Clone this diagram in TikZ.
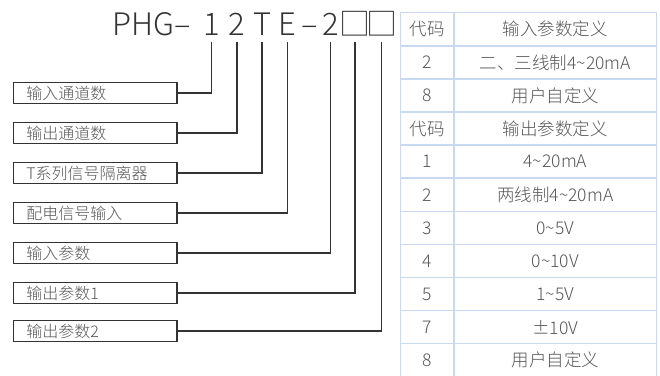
\documentclass[tikz,border=0pt]{standalone}
\usepackage{fontspec}
\setmainfont{Noto Sans CJK SC Light}
\usetikzlibrary{positioning}
\definecolor{linegray}{HTML}{333333}
\definecolor{txtgray}{HTML}{555555}
\definecolor{tblblue}{HTML}{C9D9F0}

\begin{document}
\begin{tikzpicture}[x=1pt,y=-1pt,
title/.style={inner sep=0pt,text depth=6pt,text=linegray,
  node font=\fontsize{31}{31}\selectfont},
lbl/.style={draw=linegray,line width=1.5pt,
  node distance=19pt,
  minimum height=21pt,
  inner xsep=13pt,inner ysep=0pt,outer sep=0pt,
  text width=137.7pt,align=left,text=txtgray,
  node font=\fontsize{16}{16}\selectfont
},
cell/.style={draw=tblblue,line width=1.5pt,
  minimum height=33.1pt,inner sep=0pt,outer sep=0pt,
  anchor=north west,text=txtgray,
  node font=\fontsize{17.5}{17.5}\selectfont
},
conn/.style={draw=linegray,line width=1.5pt}]

\useasboundingbox (0,0) rectangle (660,375);

% model number
\node (pfx) [title,anchor=base west] at (112,35.7) {PHG–};
\node (ch1) [title,anchor=base] at (211.5,35.7) {1};
\node (ch2) [title,anchor=base] at (236.8,35.7) {2};
\node (ch3) [title,anchor=base] at (262.2,35.7) {T};
\node (ch4) [title,anchor=base] at (287.7,35.7) {E};
\node (dsh) [title,anchor=base] at (310,35.7) {–};
\node (ch5) [title,anchor=base] at (330.6,35.7) {2};
\node (ch6) [title,anchor=base] at (355,35.7) {□};
\node (ch7) [title,anchor=base] at (381.6,35.7) {□};

% labels
\node (lb1) [lbl,anchor=north west] at (13.3,82.5) {输入通道数};
\node (lb2) [lbl,below=of lb1] {输出通道数};
\node (lb3) [lbl,below=of lb2] {T系列信号隔离器};
\node (lb4) [lbl,below=of lb3] {配电信号输入};
\node (lb5) [lbl,below=of lb4] {输入参数};
\node (lb6) [lbl,below=of lb5] {输出参数1};
\node (lb7) [lbl,below=17pt of lb6] {输出参数2};

\foreach \i in {1,...,7}
  \draw [conn] (ch\i.south) |- (lb\i.east);

% code table
\foreach \c/\d [count=\i from 0] in {代码/输入参数定义,
    2/二、三线制4\textasciitilde20mA, 8/用户自定义,
    代码/输出参数定义, 1/4\textasciitilde20mA,
    2/两线制4\textasciitilde20mA, 3/0\textasciitilde5V,
    4/0\textasciitilde10V, 5/1\textasciitilde5V,
    7/±10V, 8/用户自定义} {
  \node (c\i) [cell,minimum width=53.3pt] at (400.7,12.7+33.1*\i) {\c};
  \node (d\i) [cell,minimum width=202.7pt] at (c\i.north east) {\d};
}

\end{tikzpicture}
\end{document}
